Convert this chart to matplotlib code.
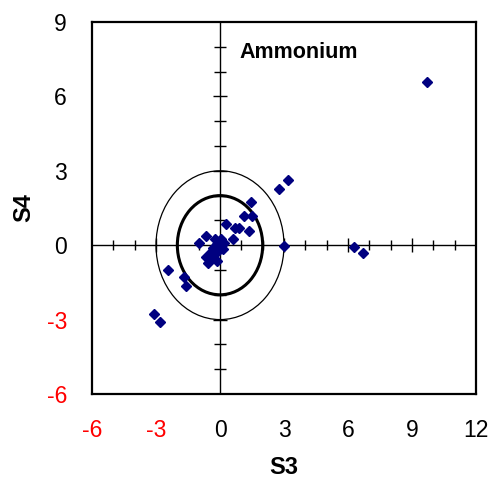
import matplotlib
matplotlib.use('Agg')
import matplotlib.pyplot as plt
from matplotlib.patches import Circle
import numpy as np

plt.rcParams['font.family'] = ['Liberation Sans', 'DejaVu Sans']

# scores on S3 / S4
s3 = [9.69, 3.17, 2.78, 1.46, 1.12, 1.48, 0.30, 0.72, 0.88, 1.37, 0.61, 3.02,
      6.28, 6.72, -0.64, -0.98, -0.22, 0.05, -0.13, 0.12, -0.44, -0.67, -0.52,
      -0.28, -0.13, -0.56, -0.35, -0.05, 0.20, -2.46, -1.68, -1.61, -3.10, -2.81]
s4 = [6.57, 2.63, 2.27, 1.76, 1.17, 1.17, 0.84, 0.71, 0.71, 0.57, 0.24, -0.04,
      -0.08, -0.30, 0.37, 0.08, 0.24, 0.23, 0.06, -0.16, -0.28, -0.46, -0.56,
      -0.39, -0.62, -0.70, -0.10, -0.20, 0.10, -1.00, -1.28, -1.65, -2.78, -3.09]

x_ticks = [-6, -3, 0, 3, 6, 9, 12]
y_ticks = [-6, -3, 0, 3, 6, 9]
radii = [2, 3]          # inner (bold) and outer confidence circles

fig = plt.figure(figsize=(4.92, 4.79), dpi=100)
ax = fig.add_axes([0.187, 0.1775, 0.7805, 0.7765])
ax.set_xlim(-6, 12)
ax.set_ylim(-6, 9)

# crosshair through the origin with its own tick marks
ax.axhline(0, color='black', lw=1, zorder=1)
ax.axvline(0, color='black', lw=1, zorder=1)
xt = np.arange(-5, 12)
xt = xt[xt != 0]
yt = np.arange(-5, 9)
yt = yt[yt != 0]
for v in xt:
    ms = 9.5 if v % 3 == 0 else 7.2
    ax.plot(v, 0, marker='|', ms=ms, mew=1, color='black', zorder=1)
for v in yt:
    ms = 10.5 if v % 3 == 0 else 8.5
    ax.plot(0, v, marker='_', ms=ms, mew=1, color='black', zorder=1)

ax.add_patch(Circle((0, 0), radii[0], fill=False, lw=2.2, ec='black', zorder=2))
ax.add_patch(Circle((0, 0), radii[1], fill=False, lw=0.9, ec='black', zorder=2))

ax.plot(s3, s4, 'D', color='#000080', ms=5.3, mec='#000080', ls='none', zorder=3)

ax.text(0.383, 0.919, 'Ammonium', transform=ax.transAxes, fontsize=15.5,
        fontweight='bold', ha='left', va='center')

ax.set_xticks(x_ticks)
ax.set_yticks(y_ticks)
ax.set_xticklabels([str(v) for v in x_ticks])
ax.set_yticklabels([str(v) for v in y_ticks])
ax.tick_params(length=0, labelsize=16.5)
ax.tick_params(axis='x', pad=18)
ax.tick_params(axis='y', pad=18)
for lab, v in zip(ax.get_xticklabels(), x_ticks):
    lab.set_color('red' if v < 0 else 'black')
for lab, v in zip(ax.get_yticklabels(), y_ticks):
    lab.set_color('red' if v < 0 else 'black')

for sp in ax.spines.values():
    sp.set_linewidth(1.6)

ax.set_xlabel('S3', fontsize=17, fontweight='bold', labelpad=10)
ax.set_ylabel('S4', fontsize=17, fontweight='bold', labelpad=8)

fig.savefig('out.png', dpi=100, facecolor='white')
